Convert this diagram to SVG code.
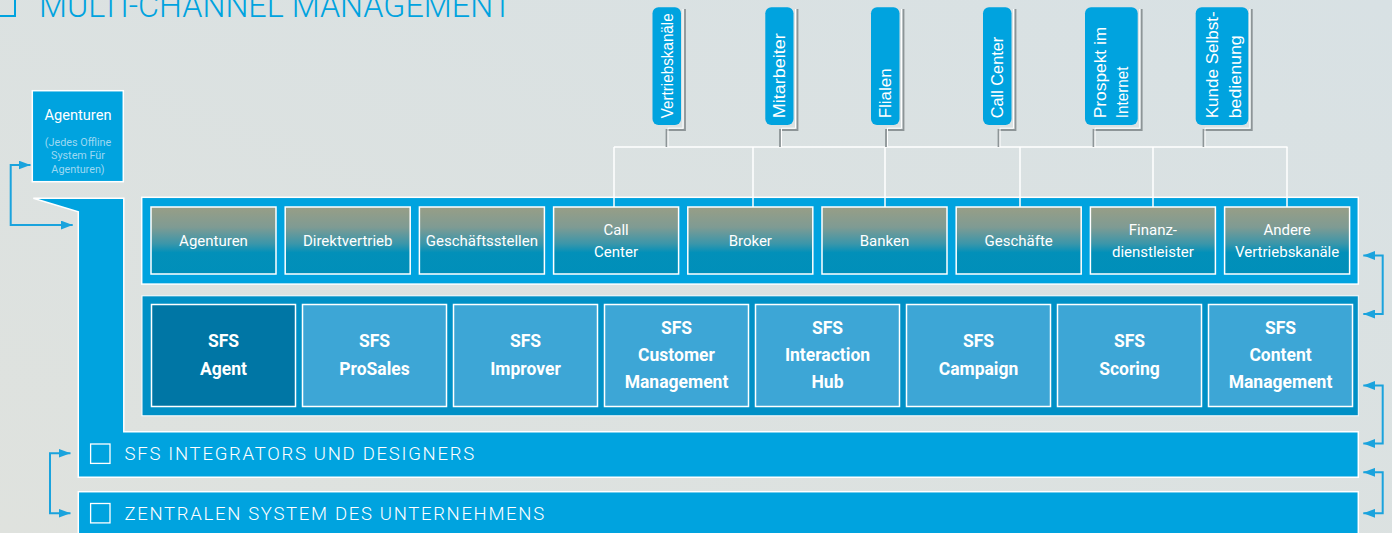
<svg xmlns="http://www.w3.org/2000/svg" width="1392" height="533" viewBox="0 0 1392 533">
<defs>
<linearGradient id="bg" x1="1" y1="0" x2="0" y2="1">
<stop offset="0" stop-color="#d8e1e4"/>
<stop offset="1" stop-color="#dfe2de"/>
</linearGradient>
<linearGradient id="chg" x1="0" y1="0" x2="0" y2="1">
<stop offset="0" stop-color="#989e86"/>
<stop offset="0.3" stop-color="#7f9b93"/>
<stop offset="0.55" stop-color="#3a96aa"/>
<stop offset="0.68" stop-color="#0290b9"/>
<stop offset="1" stop-color="#008fba"/>
</linearGradient>
<marker id="ah" markerWidth="12" markerHeight="9" refX="12" refY="4.5" orient="auto-start-reverse" markerUnits="userSpaceOnUse">
<path d="M0,0 L12,4.5 L0,9 z" fill="#1aa3dd"/>
</marker>
<style>
.blue{fill:#00a3df;stroke:#fff;stroke-width:1.5}
.ch{fill:url(#chg);stroke:#fff;stroke-width:1.5}
.sfs{fill:#3da6d6;stroke:#fff;stroke-width:1.5}
.sfsd{fill:#0076a5;stroke:#fff;stroke-width:1.5}
.cont2{fill:#0090c6;stroke:#fff;stroke-width:1}
.tch{font-family:Roboto,"Liberation Sans",sans-serif;font-size:15px;fill:#fff;text-anchor:middle}
.tsfs{font-family:Roboto,"Liberation Sans",sans-serif;font-weight:700;font-size:17.5px;fill:#fff;text-anchor:middle}
.ttag{font-family:"Liberation Sans",Arial,sans-serif;font-size:17px;fill:#fff}
.tbar{font-family:Roboto,"Liberation Sans",sans-serif;font-weight:300;font-size:18.5px;fill:#fff}
.sq{fill:none;stroke:#fff;stroke-width:1.3}
.tagr{fill:#00a3df}
.shg{fill:none;stroke:#8d9597;stroke-width:1.8}
.shw{fill:none;stroke:#ffffff;stroke-width:1}
.wl{fill:none;stroke:#ffffff;stroke-width:1.5}
.arr{fill:none;stroke:#1aa3dd;stroke-width:2;marker-start:url(#ah);marker-end:url(#ah)}
</style>
</defs>
<rect x="0" y="0" width="1392" height="533" fill="url(#bg)"/>

<g id="title">
<rect x="-10" y="-10" width="25" height="26" fill="none" stroke="#00a3df" stroke-width="2"/>
<text x="39" y="17" font-family="Roboto,'Liberation Sans',sans-serif" font-weight="300" font-size="34" fill="#00a3df" textLength="473" lengthAdjust="spacingAndGlyphs">MULTI-CHANNEL MANAGEMENT</text>
</g>

<g id="agenturen-box">
<rect class="blue" x="32.3" y="90.7" width="91" height="91"/>
<text x="78" y="120" font-family="Roboto,'Liberation Sans',sans-serif" font-size="14.6" fill="#fff" text-anchor="middle">Agenturen</text>
<g font-family="Roboto,'Liberation Sans',sans-serif" font-size="10.8" fill="#9dd8f2" text-anchor="middle">
<text x="78" y="145.7">(Jedes Offline</text>
<text x="78" y="159.3">System Für</text>
<text x="78" y="172.5">Agenturen)</text>
</g>
</g>

<g id="integrators-bar">
<path class="blue" d="M33.3,198.3 L123.8,198.3 L123.8,431.8 L1358.3,431.8 L1358.3,477.3 L78.3,477.3 L78.3,211.7 Z"/>
<rect class="sq" x="90.6" y="444" width="19.4" height="19.4"/>
<text class="tbar" x="124.6" y="460" textLength="349.5" lengthAdjust="spacing">SFS INTEGRATORS UND DESIGNERS</text>
</g>

<g id="zentral-bar">
<rect class="blue" x="78.3" y="491.7" width="1280" height="60"/>
<rect class="sq" x="90.6" y="503.5" width="19.4" height="19.4"/>
<text class="tbar" x="124.6" y="520" textLength="419.5" lengthAdjust="spacing">ZENTRALEN SYSTEM DES UNTERNEHMENS</text>
</g>

<g id="channels">
<rect class="blue" x="141.7" y="197.3" width="1216.6" height="86.8"/>
<g id="ch-agenturen"><rect class="ch" x="151" y="207" width="125" height="67"/><text class="tch" x="213.5" y="245.5">Agenturen</text></g>
<g id="ch-direktvertrieb"><rect class="ch" x="285.2" y="207" width="125" height="67"/><text class="tch" x="347.7" y="245.5">Direktvertrieb</text></g>
<g id="ch-geschaeftsstellen"><rect class="ch" x="419.4" y="207" width="125" height="67"/><text class="tch" x="481.9" y="245.5">Geschäftsstellen</text></g>
<g id="ch-callcenter"><rect class="ch" x="553.6" y="207" width="125" height="67"/><text class="tch" x="616.1" y="235">Call</text><text class="tch" x="616.1" y="257">Center</text></g>
<g id="ch-broker"><rect class="ch" x="687.8" y="207" width="125" height="67"/><text class="tch" x="750.3" y="245.5">Broker</text></g>
<g id="ch-banken"><rect class="ch" x="822" y="207" width="125" height="67"/><text class="tch" x="884.5" y="245.5">Banken</text></g>
<g id="ch-geschaefte"><rect class="ch" x="956.2" y="207" width="125" height="67"/><text class="tch" x="1018.7" y="245.5">Geschäfte</text></g>
<g id="ch-finanz"><rect class="ch" x="1090.4" y="207" width="125" height="67"/><text class="tch" x="1152.9" y="235">Finanz-</text><text class="tch" x="1152.9" y="257">dienstleister</text></g>
<g id="ch-andere"><rect class="ch" x="1224.6" y="207" width="125" height="67"/><text class="tch" x="1287.1" y="235">Andere</text><text class="tch" x="1287.1" y="257">Vertriebskanäle</text></g>
</g>

<g id="sfs-products">
<rect class="cont2" x="142" y="295.8" width="1216.3" height="120"/>
<g id="sfs-agent"><rect class="sfsd" x="151.5" y="304.5" width="144" height="102"/><text class="tsfs" x="223.5" y="347.3">SFS</text><text class="tsfs" x="223.5" y="374.5">Agent</text></g>
<g id="sfs-prosales"><rect class="sfs" x="302.5" y="304.5" width="144" height="102"/><text class="tsfs" x="374.5" y="347.3">SFS</text><text class="tsfs" x="374.5" y="374.5">ProSales</text></g>
<g id="sfs-improver"><rect class="sfs" x="453.5" y="304.5" width="144" height="102"/><text class="tsfs" x="525.5" y="347.3">SFS</text><text class="tsfs" x="525.5" y="374.5">Improver</text></g>
<g id="sfs-customer"><rect class="sfs" x="604.5" y="304.5" width="144" height="102"/><text class="tsfs" x="676.5" y="334">SFS</text><text class="tsfs" x="676.5" y="361">Customer</text><text class="tsfs" x="676.5" y="388">Management</text></g>
<g id="sfs-interaction"><rect class="sfs" x="755.5" y="304.5" width="144" height="102"/><text class="tsfs" x="827.5" y="334">SFS</text><text class="tsfs" x="827.5" y="361">Interaction</text><text class="tsfs" x="827.5" y="388">Hub</text></g>
<g id="sfs-campaign"><rect class="sfs" x="906.5" y="304.5" width="144" height="102"/><text class="tsfs" x="978.5" y="347.3">SFS</text><text class="tsfs" x="978.5" y="374.5">Campaign</text></g>
<g id="sfs-scoring"><rect class="sfs" x="1057.5" y="304.5" width="144" height="102"/><text class="tsfs" x="1129.5" y="347.3">SFS</text><text class="tsfs" x="1129.5" y="374.5">Scoring</text></g>
<g id="sfs-content"><rect class="sfs" x="1208.5" y="304.5" width="144" height="102"/><text class="tsfs" x="1280.5" y="334">SFS</text><text class="tsfs" x="1280.5" y="361">Content</text><text class="tsfs" x="1280.5" y="388">Management</text></g>
</g>

<g id="connectors">
<path class="wl" d="M614,147 H1287.5"/>
<path class="wl" d="M614,147 V207 M753,147 V207 M885,147 V207 M1020,147 V207 M1153,147 V207 M1287,147 V207"/>
<path class="shg" d="M685,9 V130 H666.5 V147"/>
<path class="shw" d="M683,9 V128.2 H668 V147"/>
<path class="shg" d="M797.5,9 V130 H780 V147"/>
<path class="shw" d="M795.5,9 V128.2 H781.5 V147"/>
<path class="shg" d="M903.5,9 V130 H886 V147"/>
<path class="shw" d="M901.5,9 V128.2 H887.5 V147"/>
<path class="shg" d="M1015.5,9 V130 H998.5 V147"/>
<path class="shw" d="M1013.5,9 V128.2 H1000 V147"/>
<path class="shg" d="M1141.7,9 V130 H1093.5 V147"/>
<path class="shw" d="M1139.7,9 V128.2 H1095 V147"/>
<path class="shg" d="M1251.8,9 V130 H1203.5 V147"/>
<path class="shw" d="M1249.8,9 V128.2 H1205 V147"/>
<path class="arr" d="M30.5,165 H10.7 V225 H72.7"/>
<path class="arr" d="M70.5,453.3 H50 V513.3 H70.5"/>
<path class="arr" d="M1363.3,255.5 H1382.7 V314 H1363.3"/>
<path class="arr" d="M1363.3,385.5 H1382.7 V443.5 H1363.3"/>
<path class="arr" d="M1363.3,472.3 H1382.7 V513.3 H1363.3"/>
</g>

<g id="tag-vertriebskanaele"><rect class="tagr" x="652.5" y="7.3" width="28.5" height="117.7" rx="6"/><text class="ttag" transform="translate(672.5,118.3) rotate(-90)" textLength="105" lengthAdjust="spacingAndGlyphs">Vertriebskanäle</text></g>
<g id="tag-mitarbeiter"><rect class="tagr" x="765.3" y="7.3" width="28.2" height="117.7" rx="6"/><text class="ttag" transform="translate(785,118.3) rotate(-90)" textLength="85" lengthAdjust="spacingAndGlyphs">Mitarbeiter</text></g>
<g id="tag-flialen"><rect class="tagr" x="871" y="7.3" width="28.5" height="117.7" rx="6"/><text class="ttag" transform="translate(891,118.3) rotate(-90)" textLength="50" lengthAdjust="spacingAndGlyphs">Flialen</text></g>
<g id="tag-callcenter"><rect class="tagr" x="983" y="7.3" width="28.5" height="117.7" rx="6"/><text class="ttag" transform="translate(1003.3,118.3) rotate(-90)" textLength="81.6" lengthAdjust="spacingAndGlyphs">Call Center</text></g>
<g id="tag-prospekt"><rect class="tagr" x="1085" y="7.3" width="52.7" height="117.7" rx="6"/><text class="ttag" transform="translate(1105.5,118.3) rotate(-90)" textLength="91.6" lengthAdjust="spacingAndGlyphs">Prospekt im</text><text class="ttag" transform="translate(1128.3,118.3) rotate(-90)" textLength="51.7" lengthAdjust="spacingAndGlyphs">Internet</text></g>
<g id="tag-kunde"><rect class="tagr" x="1195.7" y="7.3" width="52.6" height="117.7" rx="6"/><text class="ttag" transform="translate(1218.3,118.3) rotate(-90)" textLength="107" lengthAdjust="spacingAndGlyphs">Kunde Selbst-</text><text class="ttag" transform="translate(1241,118.3) rotate(-90)" textLength="83" lengthAdjust="spacingAndGlyphs">bedienung</text></g>
</svg>
